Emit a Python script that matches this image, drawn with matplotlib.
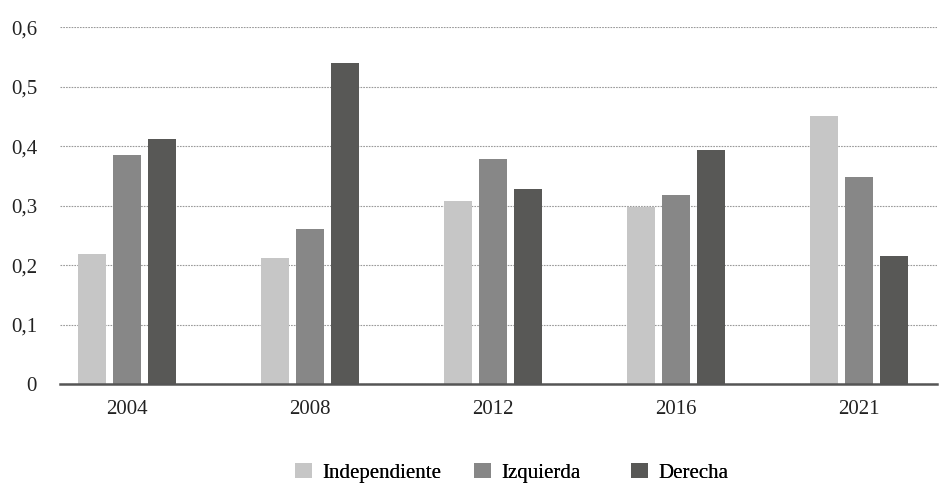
import matplotlib.pyplot as plt
import numpy as np

years = ["2004", "2008", "2012", "2016", "2021"]
independiente = [0.219, 0.212, 0.308, 0.298, 0.451]
izquierda = [0.385, 0.261, 0.379, 0.318, 0.348]
derecha = [0.413, 0.540, 0.328, 0.394, 0.216]

series = [("Independiente", independiente, "#c6c6c6"),
          ("Izquierda", izquierda, "#878787"),
          ("Derecha", derecha, "#585856")]

plt.rcParams['font.family'] = ['Liberation Serif', 'DejaVu Serif']

fig = plt.figure(figsize=(9.43, 4.83), dpi=100)
ax = fig.add_axes([60 / 943, 1 - 384.3 / 483, 877 / 943, (384.3 - 27.3) / 483])

x = np.arange(len(years))
w = 0.153
step = 0.1915
bars = []
for k, (name, vals, col) in enumerate(series):
    b = ax.bar(x + (k - 1) * step, vals, width=w, color=col, label=name, zorder=3)
    bars.append(b)

ax.set_xlim(-0.367, 4.427)
ax.set_ylim(0, 0.6)
ax.set_yticks([0, 0.1, 0.2, 0.3, 0.4, 0.5, 0.6])
ax.set_yticklabels(["0", "0,1", "0,2", "0,3", "0,4", "0,5", "0,6"])
ax.set_xticks(x)
ax.set_xticklabels(years)
ax.tick_params(axis='both', length=0, labelsize=15, colors="#222222")
ax.tick_params(axis='y', pad=16.5)
ax.tick_params(axis='x', pad=11.5)
ax.yaxis.grid(True, linestyle=(0, (1.5, 1)), color="#9a9a9a", linewidth=0.8, zorder=0)
for s in ["top", "right", "left"]:
    ax.spines[s].set_visible(False)
ax.spines["bottom"].set_color("#555555")
ax.spines["bottom"].set_linewidth(1.8)
ax.spines["bottom"].set_zorder(4)

# one legend per entry, Excel-style fixed positions
leg_x = [295, 474, 631]
for b, (name, vals, col), lx in zip(bars, series, leg_x):
    lg = fig.legend([b], [name], loc="center left", bbox_to_anchor=(lx / 943, 1 - 473 / 483),
                    frameon=False, fontsize=15, handlelength=0.82, handleheight=0.76,
                    handletextpad=0.5, borderpad=0, borderaxespad=0)
    fig.add_artist(lg)

fig.savefig("out.png", dpi=100)
